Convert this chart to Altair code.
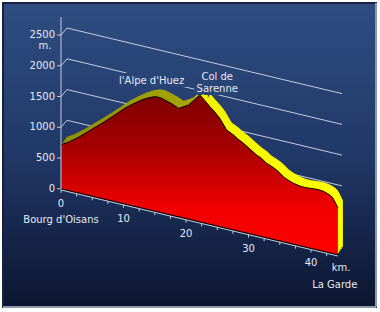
import altair as alt
import pandas as pd

# ---- data ----
KM = [0.0, 1.4, 3.0, 5.0, 7.0, 8.6, 10.2, 11.5, 12.9, 13.9, 15.0, 15.8, 16.6, 17.8, 18.8,
      19.5, 20.4, 21.3, 22.2, 23.0, 23.8, 24.6, 25.4, 26.5, 27.6, 28.3, 29.2, 30.2, 31.3,
      32.1, 32.9, 33.6, 34.5, 35.6, 36.3, 37.2, 38.2, 39.0, 39.8, 40.6, 41.4, 42.2, 43.0,
      43.5, 44.0, 44.3]
ELEV = [716, 801, 921, 1093, 1262, 1409, 1557, 1658, 1757, 1814, 1862, 1868, 1847, 1809, 1764,
        1803, 1856, 1960, 2064, 1994, 1913, 1846, 1763, 1598, 1543, 1496, 1447, 1380, 1308,
        1271, 1212, 1185, 1142, 1059, 1023, 990, 972, 967, 973, 981, 985, 971, 942,
        905, 819, 762]
GRID_ELEV = [500, 1000, 1500, 2000, 2500]
Y_TICKS = [0, 500, 1000, 1500, 2000, 2500]
Y_TICK_TEXT = ["0", "500", "1000", "1500", "2000", "2500"]
X_TICKS = [0, 2.5, 5, 7.5, 10, 12.5, 15, 17.5, 20, 22.5, 25, 27.5, 30, 32.5, 35, 37.5, 40, 42.5]
X_LABELS = [0, 10, 20, 30, 40]
X_LABEL_TEXT = ["0", "10", "20", "30", "40"]
ROUTE_END = 44.3
GRID_END = 44
AXIS_TOP = 2790
PLACES = ["Bourg d'Oisans", "La Garde"]
PLACE_KM = [0, 43.8]
PEAKS = ["l'Alpe d'Huez", "Col de\nSarenne"]
PEAK_KM = [14.5, 25.0]
PEAK_ELEV = [2104, 2427]

# ---- projection / style ----
SHEAR = 24.23          # metres of apparent drop per km (slanted floor)
W, H = 373, 304
FONT = "DejaVu Sans"
TXT = "#e6eaf2"
LINE = "#c4ccdc"
HALO = "#294476"

xs = alt.Scale(domain=[-9.28, 50.4], nice=False, zero=False)
ys = alt.Scale(domain=[-1922, 3021], nice=False, zero=False)


def X(f):
    return alt.X(f, scale=xs, axis=None)


def Y(f):
    return alt.Y(f, scale=ys, axis=None)


BG = {"gradient": "linear", "x1": 0, "y1": 0, "x2": 0, "y2": 1,
      "stops": [{"offset": 0, "color": "#2f4d82"},
                {"offset": 0.5, "color": "#213868"},
                {"offset": 1, "color": "#0b152f"}]}
YG = {"gradient": "linear", "x1": 0, "y1": 0, "x2": 1, "y2": 0,
      "stops": [{"offset": 0, "color": "#8f8f05"},
                {"offset": 0.46, "color": "#a6a608"},
                {"offset": 0.5, "color": "#f2f200"},
                {"offset": 1, "color": "#ffff00"}]}
RG = {"gradient": "linear", "x1": 0, "y1": 0, "x2": 0, "y2": 1,
      "stops": [{"offset": 0, "color": "#7d0000"},
                {"offset": 0.35, "color": "#aa0000"},
                {"offset": 0.7, "color": "#f00000"},
                {"offset": 1, "color": "#ff0000"}]}

one = alt.Data(values=[{"a": 1}])

background = alt.Chart(one).mark_rect(fill=BG, stroke="#16223d", strokeWidth=2).encode(
    x=alt.value(0), x2=alt.value("width"), y=alt.value(0), y2=alt.value("height"))
bevel_b = alt.Chart(one).mark_rule(color="#8d99ab", strokeWidth=2).encode(
    x=alt.value(0), x2=alt.value("width"), y=alt.value("height"))
bevel_r = alt.Chart(one).mark_rule(color="#8d99ab", strokeWidth=2).encode(
    x=alt.value("width"), y=alt.value(0), y2=alt.value("height"))

profile = pd.DataFrame({"km": KM, "elev": ELEV})
prof = alt.Chart(profile).transform_calculate(
    y=f"datum.elev - {SHEAR} * datum.km", base=f"-{SHEAR} * datum.km")

gdf = pd.DataFrame({"g": GRID_ELEV})
gdf["x0"] = 0
gdf["x1"] = GRID_END
gdf["g1"] = gdf["g"] - SHEAR * GRID_END
grid_lines = alt.Chart(gdf).mark_rule(
    color=LINE, strokeWidth=1, xOffset=6, x2Offset=6, yOffset=-7, y2Offset=-7).encode(
    x=X("x0:Q"), x2="x1:Q", y=Y("g:Q"), y2="g1:Q")
connectors = alt.Chart(gdf).mark_rule(color=LINE, strokeWidth=1, x2Offset=6, y2Offset=-7).encode(
    x=X("x0:Q"), x2="x0:Q", y=Y("g:Q"), y2="g:Q")

yellow = [
    prof.mark_area(fill=YG, xOffset=ox, yOffset=oy, y2Offset=oy).encode(
        x=X("km:Q"), y=Y("y:Q"), y2="base:Q")
    for ox, oy in [(1.25, -1.9), (2.5, -3.75), (3.75, -5.6), (5, -7.5)]
]
red = prof.mark_area(fill=RG).encode(x=X("km:Q"), y=Y("y:Q"), y2="base:Q")
edge = prof.mark_line(color="#000000", strokeWidth=1).encode(x=X("km:Q"), y=Y("y:Q"))

adf = pd.DataFrame({"k0": [0], "k1": [ROUTE_END], "b0": [0.0], "b1": [-SHEAR * ROUTE_END]})
base_black = alt.Chart(adf).mark_rule(color="#000000", strokeWidth=1).encode(
    x=X("k0:Q"), x2="k1:Q", y=Y("b0:Q"), y2="b1:Q")
base_axis = alt.Chart(adf).mark_rule(color=LINE, strokeWidth=1, yOffset=1.2, y2Offset=1.2).encode(
    x=X("k0:Q"), x2="k1:Q", y=Y("b0:Q"), y2="b1:Q")

tdf = pd.DataFrame({"km": X_TICKS})
tdf["b"] = -SHEAR * tdf["km"]
ticks = alt.Chart(tdf).mark_rule(color=LINE, strokeWidth=1, yOffset=1, y2Offset=4).encode(
    x=X("km:Q"), y=Y("b:Q"), y2="b:Q")

ldf = pd.DataFrame({"km": X_LABELS, "t": X_LABEL_TEXT})
ldf["b"] = -SHEAR * ldf["km"]
tick_labels = alt.Chart(ldf).mark_text(dy=15, fill=TXT, font=FONT, fontSize=10).encode(
    x=X("km:Q"), y=Y("b:Q"), text="t:N")

kdf = pd.DataFrame({"km": [44.8], "t": ["km."]})
kdf["b"] = -SHEAR * kdf["km"]
km_label = alt.Chart(kdf).mark_text(dy=12, fill=TXT, font=FONT, fontSize=10).encode(
    x=X("km:Q"), y=Y("b:Q"), text="t:N")

pldf = pd.DataFrame({"km": PLACE_KM, "t": PLACES})
pldf["b"] = -SHEAR * pldf["km"]
places = alt.Chart(pldf).mark_text(dy=31, fill=TXT, font=FONT, fontSize=10).encode(
    x=X("km:Q"), y=Y("b:Q"), text="t:N")

# vertical elevation axis (at km 0)
ydf = pd.DataFrame({"k": [0], "e0": [0], "e1": [AXIS_TOP]})
y_axis = alt.Chart(ydf).mark_rule(color=LINE, strokeWidth=1).encode(
    x=X("k:Q"), y=Y("e0:Q"), y2="e1:Q")

ytdf = pd.DataFrame({"k": 0, "e": Y_TICKS, "t": Y_TICK_TEXT})
y_ticks = alt.Chart(ytdf).mark_rule(color=LINE, strokeWidth=1, x2Offset=-4).encode(
    x=X("k:Q"), x2="k:Q", y=Y("e:Q"))
y_labels = alt.Chart(ytdf).mark_text(
    align="right", baseline="middle", dx=-6, fill=TXT, font=FONT, fontSize=10).encode(
    x=X("k:Q"), y=Y("e:Q"), text="t:N")

mdf = pd.DataFrame({"k": [0], "e": [2500], "t": ["m."]})
m_label = alt.Chart(mdf).mark_text(dx=-16, dy=11, fill=TXT, font=FONT, fontSize=10).encode(
    x=X("k:Q"), y=Y("e:Q"), text="t:N")

pkdf = pd.DataFrame({"km": PEAK_KM, "e": PEAK_ELEV, "t": PEAKS})
pk = alt.Chart(pkdf).transform_calculate(ye=f"datum.e - {SHEAR} * datum.km")
peak_halo = pk.mark_text(
    fill=HALO, stroke=HALO, strokeWidth=6, font=FONT, fontSize=10, lineBreak="\n",
    lineHeight=12, baseline="middle").encode(x=X("km:Q"), y=Y("ye:Q"), text="t:N")
peak_text = pk.mark_text(
    fill=TXT, font=FONT, fontSize=10, lineBreak="\n", lineHeight=12, baseline="middle").encode(
    x=X("km:Q"), y=Y("ye:Q"), text="t:N")

chart = alt.layer(
    background, grid_lines, connectors, *yellow, red, edge, base_black, base_axis, ticks,
    tick_labels, km_label, places, y_axis, y_ticks, y_labels, m_label, peak_halo, peak_text,
    bevel_b, bevel_r
).properties(
    width=W, height=H, autosize="none", background="white",
    padding={"left": 3, "top": 3, "right": 4, "bottom": 5},
).configure_view(strokeWidth=0)

chart.save("out.html", embed_options={"renderer": "svg", "actions": False})
